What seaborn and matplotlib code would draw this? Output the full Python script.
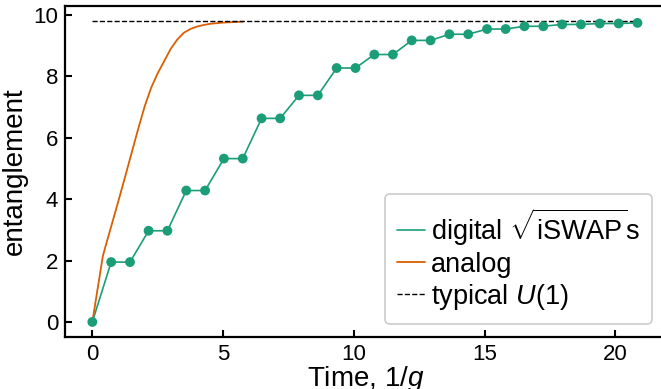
import matplotlib
matplotlib.use("Agg")
import matplotlib.pyplot as plt
import numpy as np
import pandas as pd
import seaborn as sns

# Digital sequence of sqrt(iSWAP) layers: time (1/g) and entanglement
digital_t = [0.00, 0.72, 1.44, 2.15, 2.87, 3.59, 4.31, 5.03, 5.75, 6.47,
             7.18, 7.90, 8.62, 9.34, 10.06, 10.78, 11.49, 12.21, 12.93, 13.65,
             14.37, 15.09, 15.80, 16.52, 17.24, 17.96, 18.68, 19.40, 20.12, 20.84]
digital_e = [0.00, 1.95, 1.95, 2.97, 2.97, 4.28, 4.28, 5.32, 5.32, 6.63,
             6.63, 7.38, 7.38, 8.27, 8.27, 8.71, 8.71, 9.17, 9.17, 9.37,
             9.37, 9.54, 9.54, 9.63, 9.63, 9.69, 9.69, 9.72, 9.72, 9.74]

# Analog evolution
analog_t = [0.00, 0.10, 0.20, 0.30, 0.40, 0.50, 0.75, 1.00, 1.25, 1.50,
            1.75, 2.00, 2.25, 2.50, 2.75, 3.00, 3.25, 3.50, 3.75, 4.00,
            4.25, 4.50, 5.00, 5.50, 5.75]
analog_e = [0.00, 0.53, 1.07, 1.60, 2.14, 2.45, 3.20, 3.95, 4.72, 5.50,
            6.28, 7.02, 7.63, 8.10, 8.50, 8.90, 9.20, 9.42, 9.54, 9.62,
            9.67, 9.71, 9.75, 9.77, 9.78]

# Typical entanglement of a U(1)-symmetric state
typical_u1 = 9.80

x_ticks = [0, 5, 10, 15, 20]
y_ticks = [0, 2, 4, 6, 8, 10]

green = "#1b9e77"
orange = "#d95f02"

sns.set_theme(style="ticks")
plt.rcParams["font.family"] = ["Liberation Sans", "DejaVu Sans"]
plt.rcParams["mathtext.fontset"] = "custom"
plt.rcParams["mathtext.rm"] = "Liberation Sans"
plt.rcParams["mathtext.it"] = "Liberation Sans:italic"
plt.rcParams["mathtext.bf"] = "Liberation Sans:bold"
for key in ["text.color", "axes.labelcolor", "xtick.color", "ytick.color",
            "axes.edgecolor"]:
    plt.rcParams[key] = "black"

W, H = 661, 389
fig = plt.figure(figsize=(W / 100, H / 100), dpi=100)
ax = fig.add_axes([65 / W, (H - 337) / H, (666.5 - 65) / W, (337 - 6) / H])

df_dig = pd.DataFrame({"t": digital_t, "e": digital_e})
df_ana = pd.DataFrame({"t": analog_t, "e": analog_e})

sns.lineplot(data=df_dig, x="t", y="e", ax=ax, color=green, lw=1.2,
             label=r"digital $\sqrt{\mathrm{iSWAP}}$s", sort=False)
sns.lineplot(data=df_ana, x="t", y="e", ax=ax, color=orange, lw=1.3,
             label="analog", sort=False)
ax.hlines(typical_u1, digital_t[0], digital_t[-1], colors="black",
          linestyles="--", lw=1.0, label=r"typical $U(1)$")
sns.scatterplot(data=df_dig, x="t", y="e", ax=ax, color=green, s=50,
                edgecolor="none", legend=False, zorder=3)

ax.set_xlim(-1.045, 21.95)
ax.set_ylim(-0.49, 10.29)
ax.set_xticks(x_ticks)
ax.set_yticks(y_ticks)
ax.tick_params(direction="in", length=5, width=1.5, labelsize=16, pad=5,
               top=False, right=False)
for side in ["left", "bottom", "top", "right"]:
    ax.spines[side].set_linewidth(1.6)
ax.set_xlabel(r"Time, $1/g$", fontsize=20, labelpad=-1)
ax.set_ylabel("entanglement", fontsize=20, labelpad=4)

leg = ax.legend(loc="lower right", bbox_to_anchor=(652 / W, (H - 324) / H),
                bbox_transform=fig.transFigure, borderaxespad=0,
                fontsize=19.5, handlelength=1.05, handletextpad=0.2,
                labelspacing=0.15, borderpad=0.45, frameon=True, fancybox=True,
                edgecolor="#cccccc", framealpha=1.0)
leg.get_frame().set_linewidth(1.2)

fig.savefig("out.png", dpi=100)
